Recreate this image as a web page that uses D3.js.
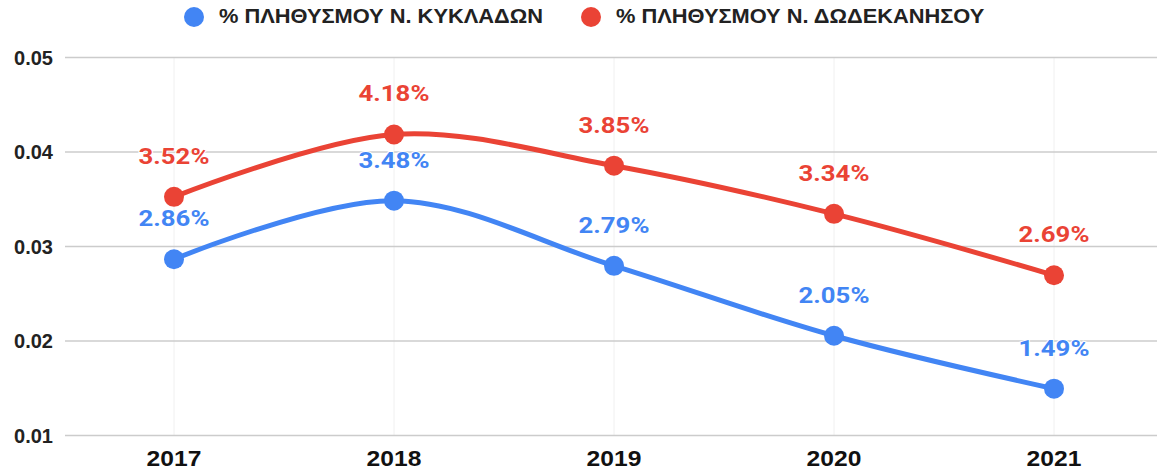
<!DOCTYPE html>
<html>
<head>
<meta charset="utf-8">
<script src="https://cdn.jsdelivr.net/npm/d3@7"></script>
<style>
  body { margin: 0; background: #fff; }
  svg { display: block; }
</style>
</head>
<body>
<svg id="chart" width="1157" height="475"></svg>
<script>
const years = ["2017", "2018", "2019", "2020", "2021"];
const kykladon = [0.0286, 0.0348, 0.0279, 0.0205, 0.0149];
const dodekanisou = [0.0352, 0.0418, 0.0385, 0.0334, 0.0269];
const yTicks = [0.01, 0.02, 0.03, 0.04, 0.05];
const seriesNames = ["% ΠΛΗΘΥΣΜΟΥ Ν. ΚΥΚΛΑΔΩΝ", "% ΠΛΗΘΥΣΜΟΥ Ν. ΔΩΔΕΚΑΝΗΣΟΥ"];
const colors = ["#4285f4", "#ea4335"];

const svg = d3.select("#chart");
const width = 1157, height = 475;
// text in the picture is a bit wider than tall
const sx = 1.12;

const x = d3.scalePoint()
  .domain(years)
  .range([64, 1164])
  .padding(0.5);

const y = d3.scaleLinear()
  .domain([0.01, 0.05])
  .range([435, 57]);

// faint vertical guides
svg.append("g")
  .selectAll("line")
  .data(years)
  .enter()
  .append("line")
  .attr("x1", d => x(d)).attr("x2", d => x(d))
  .attr("y1", 57).attr("y2", 435)
  .attr("stroke", "#f0f0f0")
  .attr("stroke-width", 1);

// horizontal grid + y labels
const yAxis = svg.append("g")
  .attr("transform", "translate(65,0)")
  .call(d3.axisLeft(y).tickValues(yTicks).tickSize(-(width - 65)).tickFormat(d3.format(".2f")));
yAxis.select(".domain").remove();
yAxis.selectAll(".tick line").attr("stroke", "#cccccc").attr("stroke-width", 1.3);
yAxis.selectAll(".tick text")
  .attr("x", -12)
  .attr("dy", "0.36em")
  .attr("fill", "#222")
  .style("font-family", "'Liberation Sans', Arial, sans-serif")
  .style("font-size", "20px")
  .style("font-weight", "bold");

// x labels
svg.append("g")
  .selectAll("text")
  .data(years)
  .enter()
  .append("text")
  .attr("transform", d => `translate(${x(d)},466) scale(${sx},1)`)
  .attr("text-anchor", "middle")
  .attr("fill", "#111")
  .style("font-family", "'Liberation Sans', Arial, sans-serif")
  .style("font-size", "22px")
  .style("font-weight", "bold")
  .text(d => d);

const line = d3.line()
  .x((d, i) => x(years[i]))
  .y(d => y(d))
  .curve(d3.curveCatmullRom.alpha(0.5));

const allSeries = [kykladon, dodekanisou];

allSeries.forEach((vals, s) => {
  const g = svg.append("g");
  g.append("path")
    .datum(vals)
    .attr("fill", "none")
    .attr("stroke", colors[s])
    .attr("stroke-width", 5)
    .attr("stroke-linecap", "round")
    .attr("d", line);

  g.selectAll("circle")
    .data(vals)
    .enter()
    .append("circle")
    .attr("cx", (d, i) => x(years[i]))
    .attr("cy", d => y(d))
    .attr("r", 10)
    .attr("fill", colors[s]);
});

allSeries.forEach((vals, s) => {
  svg.append("g")
    .selectAll("text")
    .data(vals)
    .enter()
    .append("text")
    .attr("transform", (d, i) => `translate(${x(years[i])},${y(d) - 33}) scale(${sx},1)`)
    .attr("text-anchor", "middle")
    .attr("fill", colors[s])
    .style("font-family", "Roboto, sans-serif")
    .style("font-size", "23px")
    .style("font-weight", "bold")
    .style("paint-order", "stroke")
    .style("stroke", "#fff")
    .style("stroke-width", "2px")
    .text(d => (d * 100).toFixed(2) + "%");
});

// legend
const legendX = [194, 591];
const legend = svg.append("g");
seriesNames.forEach((name, i) => {
  legend.append("circle")
    .attr("cx", legendX[i])
    .attr("cy", 17)
    .attr("r", 10)
    .attr("fill", colors[i]);
  legend.append("text")
    .attr("transform", `translate(${legendX[i] + 25},23) scale(${sx},1)`)
    .attr("fill", "#222")
    .style("font-family", "'Liberation Sans', Arial, sans-serif")
    .style("font-size", "19.5px")
    .style("font-weight", "bold")
    .text(name);
});
</script>
</body>
</html>
